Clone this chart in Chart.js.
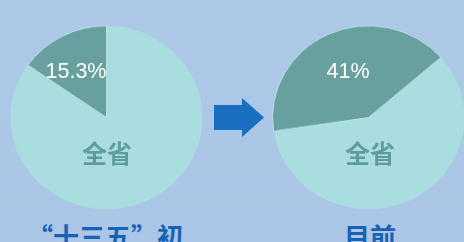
<!DOCTYPE html>
<html>
<head>
<meta charset="utf-8">
<script src="https://cdn.jsdelivr.net/npm/chart.js@4"></script>
<style>
  html, body { margin: 0; padding: 0; }
  body {
    width: 464px; height: 242px; overflow: hidden; position: relative;
    background: linear-gradient(180deg, #aec8e8 0%, #abc5e6 100%);
    font-family: "Noto Sans CJK SC", "Liberation Sans", sans-serif;
  }
  .pie { position: absolute; width: 193px; height: 193px; transform: scaleY(0.955); transform-origin: 50% 50%; }
  .lbl { position: absolute; transform: translate(-50%, -50%); white-space: nowrap; }
  .pct { color: #ffffff; font-family: "Liberation Sans", Arial, sans-serif; font-size: 21.5px; }
  .name { color: #5f9c9d; font-size: 25px; font-weight: bold; }
  .cap { color: #1762b4; font-size: 26px; font-weight: bold; }
  .arrow {
    position: absolute; left: 214px; top: 98px; width: 50px; height: 39px;
    background: #1a6fc0;
    clip-path: polygon(0 18%, 56% 18%, 56% 0, 100% 50%, 56% 100%, 56% 82%, 0 82%);
  }
</style>
</head>
<body>
<div class="pie" style="left:10px; top:21px;"><canvas id="left"></canvas></div>
<div class="pie" style="left:272px; top:21px;"><canvas id="right"></canvas></div>
<div class="arrow"></div>
<div class="lbl pct" style="left:76px; top:71px;">15.3%</div>
<div class="lbl pct" style="left:348px; top:71px;">41%</div>
<div class="lbl name" style="left:107px; top:152px;">全省</div>
<div class="lbl name" style="left:370px; top:152px;">全省</div>
<div class="lbl cap" style="left:105px; top:235px;">“十三五”初</div>
<div class="lbl cap" style="left:370px; top:235px;">目前</div>
<script>
// share of the province, start of 13th five-year plan vs now
const parts = ['其他', '全省'];
const startValues = [84.7, 15.3];
const nowValues = [59, 41];

const lightColor = '#aadde0';
const darkColor = '#67a09f';

function makePie(id, values, rotation) {
    new Chart(document.getElementById(id), {
        type: 'pie',
        data: {
            labels: parts,
            datasets: [{
                data: values,
                backgroundColor: [lightColor, darkColor],
                borderColor: '#b9e4e6',
                borderWidth: [0, 1]
            }]
        },
        options: {
            responsive: true,
            maintainAspectRatio: false,
            animation: false,
            rotation: rotation,
            layout: { padding: 0 },
            plugins: {
                legend: { display: false },
                tooltip: { enabled: false }
            }
        }
    });
}

makePie('left', startValues, 0);
makePie('right', nowValues, 49);
</script>
</body>
</html>
